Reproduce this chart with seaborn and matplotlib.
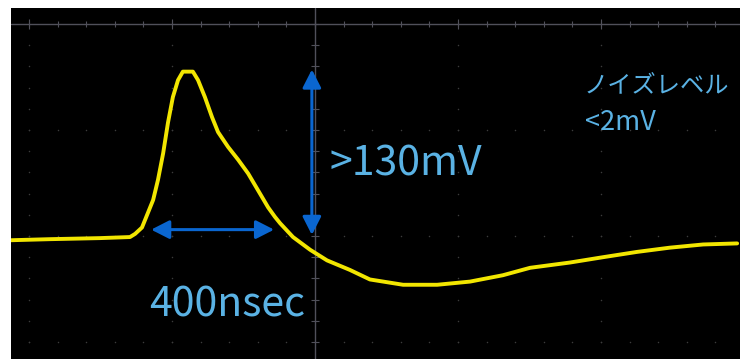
import numpy as np
import pandas as pd
import seaborn as sns
import matplotlib.pyplot as plt

# trace (time in ns, voltage in mV, 500 ns/div, 100 mV/div)
t_ns = [-1063, -927, -752, -647, -629, -605, -584, -566, -549, -531, -514, -497, -479,
        -462, -427, -409, -385, -360, -339, -304, -269, -234, -199, -164, -140, -122,
        -77, -17, 42, 122, 192, 308, 427, 542, 657, 752, 892, 1007, 1126, 1241, 1357, 1476]
v_mV = [-4, -3, -2, -1, 2, 8, 22, 34, 53, 78, 107, 131, 147,
        155, 155, 147, 131, 112, 98, 84, 72, 59, 43, 27, 18, 12,
        -1, -13, -23, -32, -41, -46, -46, -43, -37, -30, -25, -20, -15, -11, -8, -7]

width_label = "400nsec"
height_label = ">130mV"
noise_label = "ノイズレベル\n<2mV"
width_span = [-573, -143]   # ns, horizontal arrow
height_span = [157, 1]      # mV, vertical arrow

df = pd.DataFrame({"t": t_ns, "v": v_mV})

sns.set_style("dark")
plt.rcParams["font.family"] = ["Noto Sans CJK JP", "DejaVu Sans"]

fig = plt.figure(figsize=(7.4, 3.59), dpi=100, facecolor="white")
ax = fig.add_axes([11 / 740, 0, 729 / 740, 351 / 359])
ax.set_facecolor("black")
ax.set_xlim(-1063, 1486)
ax.set_ylim(-116, 215)
for s in ax.spines.values():
    s.set_visible(False)
ax.set_xticks([])
ax.set_yticks([])

# graticule: dotted major columns / rows, solid top line and centre line
grid_c = "#3c3c3c"
cols = np.arange(-1000, 1001, 500)
rows = [100, 0, -100]
yy = np.arange(-120, 201, 20)
xx = np.arange(-1100, 1501, 100)
for c in cols:
    ax.scatter(np.full(len(yy), c), yy, s=1.2, color=grid_c, linewidths=0, zorder=1)
for r in rows:
    ax.scatter(xx, np.full(len(xx), r), s=1.2, color=grid_c, linewidths=0, zorder=1)
ax.axhline(200, color="#50505a", lw=1.0, zorder=1)
ax.axvline(0, color="#50505a", lw=1.0, zorder=1)
ax.vlines(xx, 197, 203, color="#50505a", lw=0.8, zorder=1)
ax.vlines(cols, 195, 205, color="#50505a", lw=0.8, zorder=1)
ax.hlines(yy, -14, 14, color="#50505a", lw=0.8, zorder=1)

sns.lineplot(data=df, x="t", y="v", color="#f2e600", lw=2.8, ax=ax, zorder=3)
ax.set_xlabel("")
ax.set_ylabel("")

arrow_c = "#0a66d0"
aprops = dict(arrowstyle="<|-|>,head_length=0.55,head_width=0.28", color=arrow_c,
              lw=2.2, shrinkA=0, shrinkB=0, mutation_scale=20)
ax.annotate("", xy=(width_span[0], 6), xytext=(width_span[1], 6), arrowprops=aprops, zorder=4)
ax.annotate("", xy=(-11, height_span[0]), xytext=(-11, height_span[1]), arrowprops=aprops, zorder=4)

text_c = "#5ab2e4"
ax.text(50, 57, height_label, color=text_c, fontsize=29.5, va="baseline", ha="left")
ax.text(-580, -76, width_label, color=text_c, fontsize=29.5, va="baseline", ha="left")
ax.text(940, 135, noise_label.split("\n")[0], color=text_c, fontsize=17.5, va="baseline", ha="left")
ax.text(945, 100, noise_label.split("\n")[1], color=text_c, fontsize=19.5, va="baseline", ha="left")

plt.savefig("out.png", dpi=100, facecolor="white")
